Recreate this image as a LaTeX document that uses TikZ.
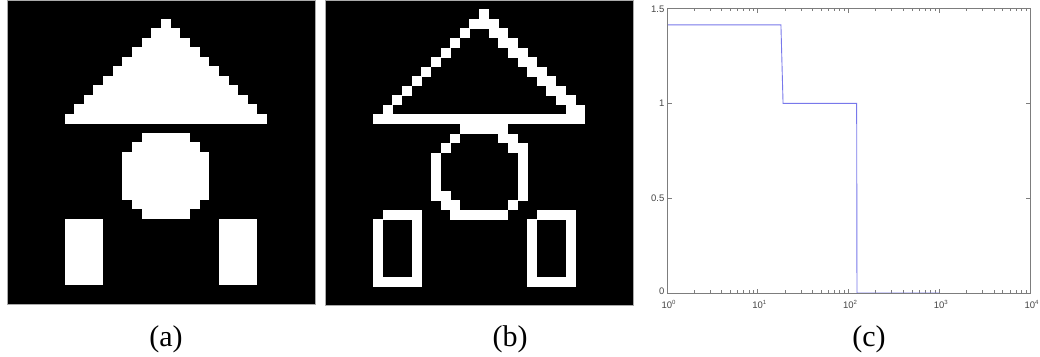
\documentclass[tikz,border=0pt]{standalone}
\usepackage{fontspec}
\setmainfont{Liberation Serif}
\newfontfamily\axfont{Liberation Sans}
\definecolor{plotblue}{RGB}{120,120,235}
\definecolor{axgray}{RGB}{125,125,125}
\definecolor{labgray}{RGB}{70,70,70}
\definecolor{rimgray}{RGB}{170,170,170}
\tikzset{
  caption/.style={font=\fontsize{30}{30}\selectfont, anchor=base, inner sep=0pt},
  ticklab/.style={font=\axfont\fontsize{9.5}{9.5}\selectfont, text=labgray, inner sep=0pt},
  axisline/.style={draw=axgray, line width=0.9pt},
  tickline/.style={draw=axgray, line width=0.7pt},
  curve/.style={draw=plotblue, line width=0.9pt},
  rim/.style={draw=rimgray, line width=0.8pt},
}
\newcommand{\expten}[1]{10\raisebox{3.6pt}{\fontsize{6}{6}\selectfont #1}}
\begin{document}
\begin{tikzpicture}[x=1pt,y=-1pt]
\useasboundingbox (0,0) rectangle (1040,356);
\fill[white] (0,0) rectangle (1040,356);
% ---------------- panel (a) ----------------
\def\ax{7}\def\aw{9.625}\def\ah{9.5}
\fill[black] (7,0) rectangle (315,304);
\draw[rim] (7,0) rectangle (315,304);
\foreach \r in {2,...,12}
  \fill[white] ({\ax+(18-\r)*\aw-0.2},{\r*\ah-0.2}) rectangle ({\ax+(\r+15)*\aw+0.2},{(\r+1)*\ah+0.2});
\foreach \r/\a/\b in {14/14/18,15/13/19,16/12/20,17/12/20,18/12/20,19/12/20,20/12/20,21/13/19,22/14/18}
  \fill[white] ({\ax+\a*\aw-0.2},{\r*\ah-0.2}) rectangle ({\ax+(\b+1)*\aw+0.2},{(\r+1)*\ah+0.2});
\fill[white] ({\ax+6*\aw},{23*\ah}) rectangle ({\ax+10*\aw},{30*\ah});
\fill[white] ({\ax+22*\aw},{23*\ah}) rectangle ({\ax+26*\aw},{30*\ah});
% ---------------- panel (b) ----------------
\def\bx{325.3}\def\bw{9.62}\def\bh{9.55}
\fill[black] (325.3,0) rectangle (633,305.5);
\draw[rim] (325.3,0) rectangle (633,305.5);
\foreach \r in {2,...,11}{
  \fill[white] ({\bx+(17-\r)*\bw-0.2},{\r*\bh-0.2}) rectangle ({\bx+(18-\r)*\bw+0.2},{(\r+1)*\bh+0.2});
  \fill[white] ({\bx+(\r+14)*\bw-0.2},{\r*\bh-0.2}) rectangle ({\bx+(\r+16)*\bw+0.2},{(\r+1)*\bh+0.2});
}
\foreach \r/\a/\b in {1/16/16,12/5/26,13/14/18,14/13/13,14/18/19,15/12/12,15/19/20,
    16/11/11,16/20/20,17/11/11,17/20/20,18/11/11,18/20/20,19/11/11,19/20/20,
    20/11/12,20/20/20,21/12/13,21/19/19,22/6/9,22/13/18,22/22/25,29/5/9,29/21/25}
  \fill[white] ({\bx+\a*\bw-0.2},{\r*\bh-0.2}) rectangle ({\bx+(\b+1)*\bw+0.2},{(\r+1)*\bh+0.2});
\foreach \c in {5,9,21,25}
  \fill[white] ({\bx+\c*\bw-0.2},{23*\bh-0.2}) rectangle ({\bx+(\c+1)*\bw+0.2},{29*\bh+0.2});
% ---------------- panel (c) ----------------
\def\px{667}\def\pd{90.75}\def\py{293}\def\pu{189.67}
\foreach \d in {0,1,2,3}
  \foreach \k in {2,...,9}{
    \draw[tickline] ({\px+\pd*(\d+log10(\k))},\py) -- ++(0,-2.6);
    \draw[tickline] ({\px+\pd*(\d+log10(\k))},8.5) -- ++(0,2.6);
  }
\foreach \d in {1,2,3}{
  \draw[tickline] ({\px+\pd*\d},\py) -- ++(0,-4.5);
  \draw[tickline] ({\px+\pd*\d},8.5) -- ++(0,4.5);
}
\foreach \v in {0.5,1}{
  \draw[tickline] (\px,{\py-\pu*\v}) -- ++(4.5,0);
  \draw[tickline] (1030,{\py-\pu*\v}) -- ++(-4.5,0);
}
\coordinate (c0) at (\px,{\py-\pu*1.414});
\coordinate (c1) at ({\px+\pd*log10(18)},{\py-\pu*1.414});
\coordinate (c2) at ({\px+\pd*log10(19)},{\py-\pu*1});
\coordinate (c3) at ({\px+\pd*log10(123)},{\py-\pu*1});
\coordinate (c4) at ({\px+\pd*log10(124)},\py);
\coordinate (c5) at ({\px+\pd*3},\py);
\draw[curve] (c0) -- (c1) -- (c2) -- (c3) -- (c4) -- (c5);
\draw[axisline] (\px,8.5) rectangle (1030,\py);
\node[ticklab, anchor=east] (y15) at (664.5,9) {1.5};
\node[ticklab, anchor=east] (y10) at (664.5,{\py-\pu*1}) {1};
\node[ticklab, anchor=east] (y05) at (664.5,{\py-\pu*0.5}) {0.5};
\node[ticklab, anchor=east] (y00) at (664.5,291.5) {0};
\foreach \d in {0,1,2,3,4}
  \node[ticklab, anchor=north] (xl\d) at ({\px+\pd*\d+1.5},300.5) {\expten{\d}};
\node[caption] (capa) at (166,346) {(a)};
\node[caption] (capb) at (510,346) {(b)};
\node[caption] (capc) at (869,346) {(c)};
\end{tikzpicture}
\end{document}
